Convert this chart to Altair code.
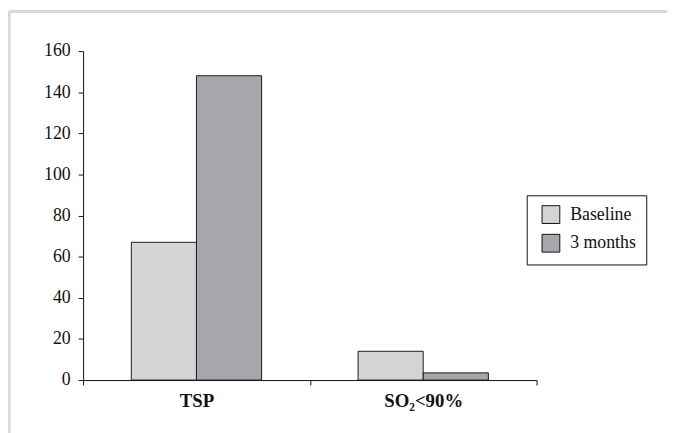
import altair as alt
import pandas as pd

categories = ["TSP", "SO₂<90%"]
series = ["Baseline", "3 months"]
baseline = [67, 14]
three_months = [148, 3.5]
y_ticks = [0, 20, 40, 60, 80, 100, 120, 140, 160]
colors = ["#d3d4d6", "#a6a7aa"]

rows = []
for i, c in enumerate(categories):
    rows.append({"cat": c, "series": series[0], "value": baseline[i]})
    rows.append({"cat": c, "series": series[1], "value": three_months[i]})
df = pd.DataFrame(rows)

FONT = "Liberation Serif"

bars = alt.Chart(df).mark_bar(stroke="#1a1a1a", strokeWidth=1).encode(
    x=alt.X("cat:N", sort=categories, title=None,
            scale=alt.Scale(paddingInner=0, paddingOuter=0),
            axis=alt.Axis(labelAngle=0, tickBand="extent", labelFont=FONT,
                          labelFontSize=19, labelFontWeight="bold", labelColor="#111",
                          domainColor="#111", tickColor="#111", tickSize=5,
                          labelPadding=7, grid=False)),
    xOffset=alt.XOffset("series:N", sort=series,
                        scale=alt.Scale(paddingInner=0, paddingOuter=0.74)),
    y=alt.Y("value:Q", title=None,
            scale=alt.Scale(domain=[0, 160], nice=False),
            axis=alt.Axis(values=y_ticks, labelFont=FONT, labelFontSize=18,
                          labelColor="#111", domainColor="#111", tickColor="#111",
                          tickSize=5, labelPadding=8, grid=False)),
    color=alt.Color("series:N", sort=series,
                    scale=alt.Scale(domain=series, range=colors),
                    legend=alt.Legend(title=None, orient="none", legendX=449, legendY=146,
                                      strokeColor="#111", padding=10, fillColor="white",
                                      symbolType="square", symbolSize=324,
                                      symbolStrokeColor="#111", symbolStrokeWidth=1,
                                      labelFont=FONT, labelFontSize=18, labelColor="#111",
                                      labelExpr="datum.label + '\u00a0\u00a0'",
                                      rowPadding=6, labelOffset=10, symbolOffset=5)),
)

frame_top = alt.Chart(df).mark_rule(color="#d9d9d9", strokeWidth=2.5).encode(
    x=alt.value(-75), x2=alt.value(600), y=alt.value(-40))
frame_left = alt.Chart(df).mark_rule(color="#d9d9d9", strokeWidth=2.5).encode(
    x=alt.value(-75), y=alt.value(-40), y2=alt.value(400))

chart = alt.layer(frame_top, frame_left, bars).properties(
    width=459, height=333,
    background="white",
    autosize=alt.AutoSizeParams(type="none"),
    padding={"left": 76, "top": 41, "right": 132, "bottom": 51},
).configure_view(stroke=None, strokeWidth=0)

chart.save("out.html", embed_options={"renderer": "svg", "actions": False})
